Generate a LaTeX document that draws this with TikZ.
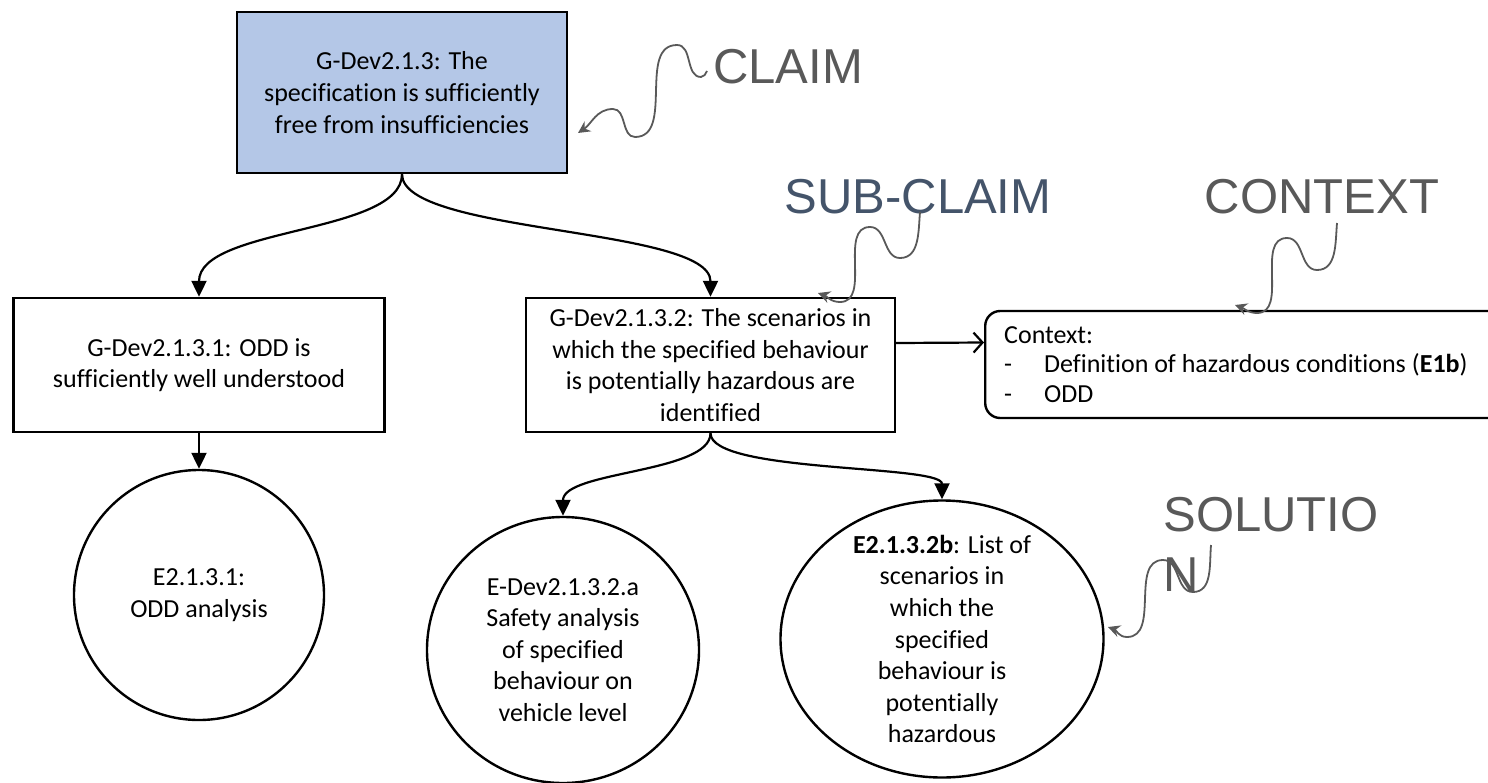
\documentclass[tikz,border=0pt]{standalone}
\usepackage{fontspec}
\setmainfont{Carlito}[Ligatures=NoCommon]
\newfontfamily\tagfont{Liberation Sans}
\usetikzlibrary{arrows.meta,positioning,shapes.geometric}
\definecolor{claimblue}{HTML}{B4C7E7}
\definecolor{notegrey}{HTML}{595959}
\definecolor{noteslate}{HTML}{44546A}
\begin{document}
\begin{tikzpicture}[x=0.5pt,y=0.5pt,
  goal/.style={draw=black,line width=1.2pt,rectangle,align=center,
     font=\fontsize{13}{15.8}\selectfont,inner sep=2pt},
  solution/.style={goal,ellipse,inner xsep=0pt,inner ysep=-20pt},
  link/.style={-{Triangle[length=8pt,width=7.5pt]},line width=1.1pt},
  ctxlink/.style={-{Straight Barb[length=4.5pt,width=10pt]},line width=1.1pt},
  tag/.style={font=\tagfont\fontsize{24.5}{30}\selectfont,text=notegrey,inner sep=0pt},
  note/.style={-{Stealth[length=6pt,width=6pt,inset=2pt]},line width=0.9pt,color=notegrey}
]
\clip (0,0) rectangle (1488,-782);
\node[goal,fill=claimblue,minimum width=165pt,minimum height=80.5pt] (top) at (402,-92.5)
  {G-Dev2.1.3: The\\specification is sufficiently\\free from insufficiencies};
\node[goal,minimum width=185.5pt,minimum height=67pt] (odd) at (199,-365)
  {G-Dev2.1.3.1: ODD is\\sufficiently well understood};
\node[goal,minimum width=184.5pt,minimum height=67pt] (scen) at (710.5,-365)
  {G-Dev2.1.3.2: The scenarios in\\which the specified behaviour\\is potentially hazardous are\\identified};
\node[goal,rounded corners=7.5pt,anchor=west,align=flush left,text width=240pt,inner xsep=9.5pt,
  minimum height=53.5pt,font=\fontsize{13}{14.6}\selectfont] (ctx) at (984,-364.5)
  {Context:\\
   \makebox[20pt][l]{-}Definition of hazardous conditions (\textbf{E1b})\\
   \makebox[20pt][l]{-}ODD};
\node[solution,minimum width=125pt,minimum height=125pt] (oddan) at (199,-595)
  {E2.1.3.1:\\ODD analysis};
\node[solution,minimum width=136pt,minimum height=133pt] (safety) at (563,-650)
  {E-Dev2.1.3.2.a\\Safety analysis\\of specified\\behaviour on\\vehicle level};
\node[solution,minimum width=161.5pt,minimum height=138.5pt] (list) at (942,-639)
  {\textbf{E2.1.3.2b}: List of\\scenarios in\\which the\\specified\\behaviour is\\potentially\\hazardous};
\draw[link] (top.south) .. controls +(0,-60) and +(0,70) .. (odd.north);
\draw[link] (top.south) .. controls +(0,-60) and +(0,70) .. (scen.north);
\draw[link] (odd) -- (oddan);
\draw[link] (scen.south) .. controls +(0,-40) and +(0,45) .. (safety.north);
\draw[link] (scen.south) .. controls +(0,-40) and +(0,35) .. (list.north);
\draw[ctxlink] ([yshift=11pt]scen.east) -- ([yshift=11pt]ctx.west);
\node[tag] (claimtag) at (788,-67) {CLAIM};
\node[tag,text=noteslate] (subtag) at (918,-197) {SUB-CLAIM};
\node[tag] (ctxtag) at (1322,-197) {CONTEXT};
\node[tag,align=left,anchor=north west] (soltag) at (1163,-497) {SOLUTIO\\N};
\draw[note] (707,-71) to[out=-120,in=0] (701,-77) to[out=180,in=0] (677,-45)
  to[out=180,in=0] (635,-137) to[out=180,in=0] (613,-109) to[out=180,in=34] (578,-133);
\draw[note] (920,-212) to[out=-95,in=0] (900,-258) to[out=180,in=0] (870,-227)
  to[out=180,in=0] (840,-302) to[out=180,in=-20] (818,-293);
\draw[note] (1337,-223) to[out=-95,in=0] (1317,-270) to[out=180,in=0] (1287,-238)
  to[out=180,in=0] (1257,-313) to[out=180,in=-20] (1235,-305);
\draw[note] (1211,-545) to[out=-95,in=0] (1193,-592) to[out=180,in=0] (1163,-560)
  to[out=180,in=0] (1127,-637) to[out=180,in=-20] (1108,-627);
\end{tikzpicture}
\end{document}
